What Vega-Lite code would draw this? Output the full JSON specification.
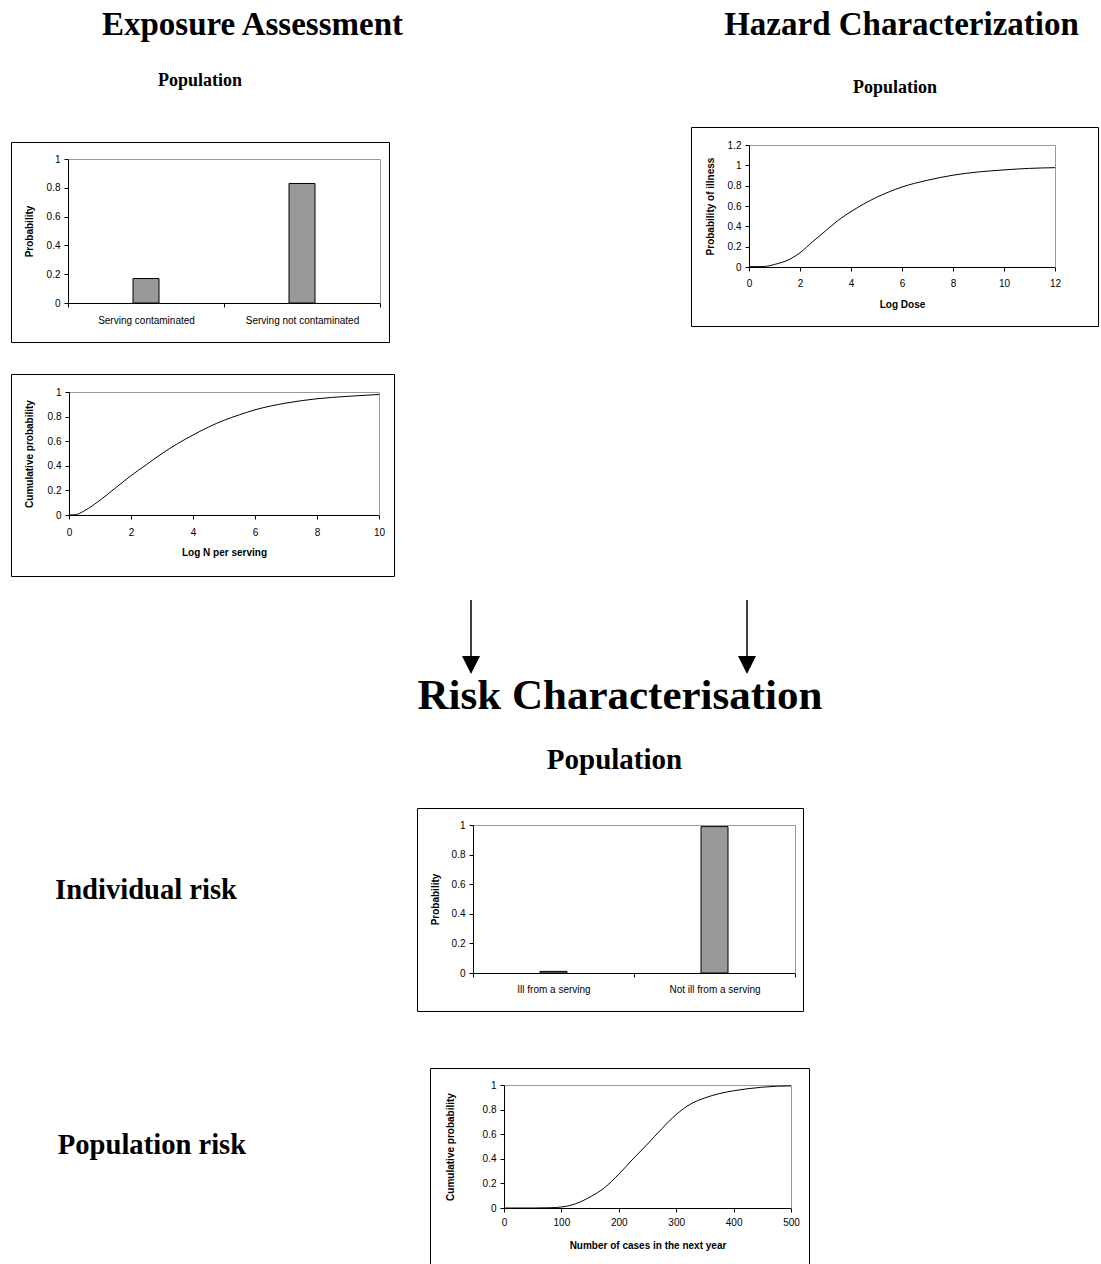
{
  "$schema": "https://vega.github.io/schema/vega-lite/v6.json",
  "padding": 0,
  "background": "white",
  "datasets": {
    "exposure_bar": [
      {"category": "Serving contaminated", "probability": 0.17},
      {"category": "Serving not contaminated", "probability": 0.83}
    ],
    "exposure_cdf": [
      {"log_n": 0, "cumulative": 0},
      {"log_n": 0.2, "cumulative": 0.002},
      {"log_n": 0.5, "cumulative": 0.035},
      {"log_n": 1, "cumulative": 0.12},
      {"log_n": 1.5, "cumulative": 0.22},
      {"log_n": 2, "cumulative": 0.32},
      {"log_n": 2.5, "cumulative": 0.41},
      {"log_n": 3, "cumulative": 0.5},
      {"log_n": 3.5, "cumulative": 0.58},
      {"log_n": 4, "cumulative": 0.65},
      {"log_n": 4.5, "cumulative": 0.715},
      {"log_n": 5, "cumulative": 0.77},
      {"log_n": 5.5, "cumulative": 0.815},
      {"log_n": 6, "cumulative": 0.855},
      {"log_n": 7, "cumulative": 0.91},
      {"log_n": 8, "cumulative": 0.945},
      {"log_n": 9, "cumulative": 0.965},
      {"log_n": 10, "cumulative": 0.98}
    ],
    "hazard": [
      {"log_dose": 0, "p_ill": 0.003},
      {"log_dose": 0.5, "p_ill": 0.004},
      {"log_dose": 0.8, "p_ill": 0.012},
      {"log_dose": 1, "p_ill": 0.025},
      {"log_dose": 1.5, "p_ill": 0.065},
      {"log_dose": 2, "p_ill": 0.14},
      {"log_dose": 2.5, "p_ill": 0.25},
      {"log_dose": 3, "p_ill": 0.355},
      {"log_dose": 3.5, "p_ill": 0.46},
      {"log_dose": 4, "p_ill": 0.545},
      {"log_dose": 4.5, "p_ill": 0.62},
      {"log_dose": 5, "p_ill": 0.685},
      {"log_dose": 5.5, "p_ill": 0.74},
      {"log_dose": 6, "p_ill": 0.787},
      {"log_dose": 7, "p_ill": 0.853},
      {"log_dose": 8, "p_ill": 0.903},
      {"log_dose": 9, "p_ill": 0.935},
      {"log_dose": 10, "p_ill": 0.955},
      {"log_dose": 11, "p_ill": 0.97},
      {"log_dose": 12, "p_ill": 0.977}
    ],
    "risk_bar": [
      {"category": "Ill from a serving", "probability": 0.011},
      {"category": "Not ill from a serving", "probability": 0.989}
    ],
    "cases_cdf": [
      {"cases": 0, "cumulative": 0},
      {"cases": 50, "cumulative": 0},
      {"cases": 80, "cumulative": 0.002},
      {"cases": 100, "cumulative": 0.008},
      {"cases": 125, "cumulative": 0.035},
      {"cases": 150, "cumulative": 0.09},
      {"cases": 175, "cumulative": 0.165},
      {"cases": 200, "cumulative": 0.275},
      {"cases": 225, "cumulative": 0.4},
      {"cases": 250, "cumulative": 0.52},
      {"cases": 275, "cumulative": 0.645},
      {"cases": 300, "cumulative": 0.76},
      {"cases": 325, "cumulative": 0.845},
      {"cases": 350, "cumulative": 0.895},
      {"cases": 375, "cumulative": 0.93},
      {"cases": 400, "cumulative": 0.953},
      {"cases": 425, "cumulative": 0.97},
      {"cases": 450, "cumulative": 0.982},
      {"cases": 475, "cumulative": 0.99},
      {"cases": 500, "cumulative": 0.993}
    ]
  },
  "spacing": 0,
  "vconcat": [
    {
      "spacing": 0,
      "hconcat": [
        {"width": 505, "height": 70, "data": {"values": [{"t": "Exposure Assessment"}]},
         "mark": {"type": "text", "font": "Liberation Serif", "fontWeight": "bold", "fontSize": 33, "baseline": "alphabetic", "color": "black"},
         "encoding": {"text": {"field": "t", "type": "nominal"}}},
        {"width": 200, "height": 1, "data": {"values": []}, "mark": "text"},
        {"width": 393, "height": 70, "data": {"values": [{"t": "Hazard Characterization"}]},
         "mark": {"type": "text", "font": "Liberation Serif", "fontWeight": "bold", "fontSize": 33, "baseline": "alphabetic", "color": "black"},
         "encoding": {"text": {"field": "t", "type": "nominal"}}}
      ]
    },
    {
      "spacing": 0,
      "hconcat": [
        {"width": 10, "height": 1, "data": {"values": []}, "mark": "text"},
        {
          "spacing": 0,
          "vconcat": [
            {"width": 378, "height": 32, "data": {"values": [{"t": "Population"}]},
             "mark": {"type": "text", "font": "Liberation Serif", "fontWeight": "bold", "fontSize": 18, "baseline": "alphabetic", "color": "black"},
             "encoding": {"text": {"field": "t", "type": "nominal"}}},
            {"width": 1, "height": 39, "data": {"values": []}, "mark": "text"},
            {
              "width": 378, "height": 200,
              "view": {"stroke": "black", "strokeWidth": 1},
              "data": {"name": "exposure_bar"},
              "layer": [
                {"mark": {"type": "bar", "size": 26, "fill": "#999999", "stroke": "black", "strokeWidth": 1},
                 "encoding": {
                   "x": {"field": "category", "type": "nominal", "sort": null,
                         "scale": {"range": [57, 369], "paddingInner": 0, "paddingOuter": 0},
                         "axis": {"orient": "bottom", "offset": -39, "title": null, "labelAngle": 0, "tickBand": "extent", "labelPadding": 8}},
                   "y": {"field": "probability", "type": "quantitative",
                         "scale": {"domain": [0, 1], "range": [161, 17], "nice": false},
                         "axis": {"orient": "left", "offset": -57, "values": [0, 0.2, 0.4, 0.6, 0.8, 1], "format": "~g", "title": "Probability", "titlePadding": 12}}
                 }},
                {"mark": {"type": "bar", "size": 26, "opacity": 0},
                 "encoding": {
                   "x": {"field": "category", "type": "nominal", "sort": null,
                         "axis": {"orient": "top", "offset": -17, "title": null, "labels": false, "ticks": false, "domainColor": "#999999"}},
                   "y": {"field": "probability", "type": "quantitative",
                         "axis": {"orient": "right", "offset": -9, "title": null, "labels": false, "ticks": false, "domainColor": "#999999"}}
                 }}
              ],
              "resolve": {"axis": {"x": "independent", "y": "independent"}}
            },
            {"width": 1, "height": 30, "data": {"values": []}, "mark": "text"},
            {
              "width": 383, "height": 202,
              "view": {"stroke": "black", "strokeWidth": 1},
              "data": {"name": "exposure_cdf"},
              "layer": [
                {"mark": {"type": "line", "color": "black", "strokeWidth": 1, "interpolate": "monotone"},
                 "encoding": {
                   "x": {"field": "log_n", "type": "quantitative",
                         "scale": {"domain": [0, 10], "range": [58, 368], "nice": false, "zero": false},
                         "axis": {"orient": "bottom", "offset": -61, "values": [0, 2, 4, 6, 8, 10], "title": "Log N per serving", "labelPadding": 8, "titlePadding": 10}},
                   "y": {"field": "cumulative", "type": "quantitative",
                         "scale": {"domain": [0, 1], "range": [141, 18], "nice": false},
                         "axis": {"orient": "left", "offset": -58, "values": [0, 0.2, 0.4, 0.6, 0.8, 1], "format": "~g", "title": "Cumulative probability", "titlePadding": 13}}
                 }},
                {"mark": {"type": "line", "strokeOpacity": 0},
                 "encoding": {
                   "x": {"field": "log_n", "type": "quantitative",
                         "axis": {"orient": "top", "offset": -18, "title": null, "labels": false, "ticks": false, "domainColor": "#999999"}},
                   "y": {"field": "cumulative", "type": "quantitative",
                         "axis": {"orient": "right", "offset": -15, "title": null, "labels": false, "ticks": false, "domainColor": "#999999"}}
                 }}
              ],
              "resolve": {"axis": {"x": "independent", "y": "independent"}}
            }
          ]
        },
        {"width": 295, "height": 1, "data": {"values": []}, "mark": "text"},
        {
          "spacing": 0,
          "vconcat": [
            {"width": 408, "height": 46, "data": {"values": [{"t": "Population"}]},
             "mark": {"type": "text", "font": "Liberation Serif", "fontWeight": "bold", "fontSize": 18, "baseline": "alphabetic", "color": "black"},
             "encoding": {"text": {"field": "t", "type": "nominal"}}},
            {"width": 1, "height": 10, "data": {"values": []}, "mark": "text"},
            {
              "width": 407, "height": 199,
              "view": {"stroke": "black", "strokeWidth": 1},
              "data": {"name": "hazard"},
              "layer": [
                {"mark": {"type": "line", "color": "black", "strokeWidth": 1, "interpolate": "monotone"},
                 "encoding": {
                   "x": {"field": "log_dose", "type": "quantitative",
                         "scale": {"domain": [0, 12], "range": [58, 364], "nice": false, "zero": false},
                         "axis": {"orient": "bottom", "offset": -59, "values": [0, 2, 4, 6, 8, 10, 12], "title": "Log Dose", "labelPadding": 7, "titlePadding": 11}},
                   "y": {"field": "p_ill", "type": "quantitative",
                         "scale": {"domain": [0, 1.2], "range": [140, 18], "nice": false},
                         "axis": {"orient": "left", "offset": -58, "values": [0, 0.2, 0.4, 0.6, 0.8, 1, 1.2], "format": "~g", "title": "Probability of illness", "titlePadding": 12}}
                 }},
                {"mark": {"type": "line", "strokeOpacity": 0},
                 "encoding": {
                   "x": {"field": "log_dose", "type": "quantitative",
                         "axis": {"orient": "top", "offset": -18, "title": null, "labels": false, "ticks": false, "domainColor": "#999999"}},
                   "y": {"field": "p_ill", "type": "quantitative",
                         "axis": {"orient": "right", "offset": -43, "title": null, "labels": false, "ticks": false, "domainColor": "#999999"}}
                 }}
              ],
              "resolve": {"axis": {"x": "independent", "y": "independent"}}
            }
          ]
        }
      ]
    },
    {"width": 1, "height": 22, "data": {"values": []}, "mark": "text"},
    {
      "spacing": 0,
      "hconcat": [
        {"width": 462, "height": 1, "data": {"values": []}, "mark": "text"},
        {
          "width": 18, "height": 74,
          "data": {"values": [{"arrow": "exposure"}]},
          "layer": [
            {"mark": {"type": "rule", "color": "black", "strokeWidth": 1.5},
             "encoding": {
               "x": {"datum": 0, "type": "quantitative", "scale": {"domain": [-1, 1]}, "axis": null},
               "y": {"datum": 0.1216, "type": "quantitative", "scale": {"domain": [0, 1]}, "axis": null},
               "y2": {"datum": 1}
             }},
            {"mark": {"type": "point", "shape": "M-1,-1L1,-1L0,1Z", "filled": true, "color": "black", "opacity": 1, "size": 324},
             "encoding": {
               "x": {"datum": 0, "type": "quantitative"},
               "y": {"datum": 0.1216, "type": "quantitative"}
             }}
          ]
        },
        {"width": 258, "height": 1, "data": {"values": []}, "mark": "text"},
        {
          "width": 18, "height": 74,
          "data": {"values": [{"arrow": "hazard"}]},
          "layer": [
            {"mark": {"type": "rule", "color": "black", "strokeWidth": 1.5},
             "encoding": {
               "x": {"datum": 0, "type": "quantitative", "scale": {"domain": [-1, 1]}, "axis": null},
               "y": {"datum": 0.1216, "type": "quantitative", "scale": {"domain": [0, 1]}, "axis": null},
               "y2": {"datum": 1}
             }},
            {"mark": {"type": "point", "shape": "M-1,-1L1,-1L0,1Z", "filled": true, "color": "black", "opacity": 1, "size": 324},
             "encoding": {
               "x": {"datum": 0, "type": "quantitative"},
               "y": {"datum": 0.1216, "type": "quantitative"}
             }}
          ]
        }
      ]
    },
    {
      "spacing": 0,
      "hconcat": [
        {"width": 140, "height": 1, "data": {"values": []}, "mark": "text"},
        {"width": 960, "height": 68, "data": {"values": [{"t": "Risk Characterisation"}]},
         "mark": {"type": "text", "font": "Liberation Serif", "fontWeight": "bold", "fontSize": 43, "baseline": "alphabetic", "color": "black"},
         "encoding": {"text": {"field": "t", "type": "nominal"}}}
      ]
    },
    {
      "spacing": 0,
      "hconcat": [
        {"width": 129, "height": 1, "data": {"values": []}, "mark": "text"},
        {"width": 971, "height": 52, "data": {"values": [{"t": "Population"}]},
         "mark": {"type": "text", "font": "Liberation Serif", "fontWeight": "bold", "fontSize": 29, "baseline": "alphabetic", "color": "black"},
         "encoding": {"text": {"field": "t", "type": "nominal"}}}
      ]
    },
    {
      "spacing": 0,
      "hconcat": [
        {"width": 292, "height": 208, "data": {"values": [{"t": "Individual risk"}]},
         "mark": {"type": "text", "font": "Liberation Serif", "fontWeight": "bold", "fontSize": 28.6, "baseline": "alphabetic", "color": "black"},
         "encoding": {"text": {"field": "t", "type": "nominal"}}},
        {"width": 124, "height": 1, "data": {"values": []}, "mark": "text"},
        {
          "spacing": 0,
          "vconcat": [
            {"width": 1, "height": 12, "data": {"values": []}, "mark": "text"},
            {
              "width": 386, "height": 203,
              "view": {"stroke": "black", "strokeWidth": 1},
              "data": {"name": "risk_bar"},
              "layer": [
                {"mark": {"type": "bar", "size": 27, "fill": "#999999", "stroke": "black", "strokeWidth": 1},
                 "encoding": {
                   "x": {"field": "category", "type": "nominal", "sort": null,
                         "scale": {"range": [56, 378], "paddingInner": 0, "paddingOuter": 0},
                         "axis": {"orient": "bottom", "offset": -38, "title": null, "labelAngle": 0, "tickBand": "extent", "labelPadding": 7}},
                   "y": {"field": "probability", "type": "quantitative",
                         "scale": {"domain": [0, 1], "range": [165, 17], "nice": false},
                         "axis": {"orient": "left", "offset": -56, "values": [0, 0.2, 0.4, 0.6, 0.8, 1], "format": "~g", "title": "Probability", "titlePadding": 11}}
                 }},
                {"mark": {"type": "bar", "size": 27, "opacity": 0},
                 "encoding": {
                   "x": {"field": "category", "type": "nominal", "sort": null,
                         "axis": {"orient": "top", "offset": -17, "title": null, "labels": false, "ticks": false, "domainColor": "#999999"}},
                   "y": {"field": "probability", "type": "quantitative",
                         "axis": {"orient": "right", "offset": -8, "title": null, "labels": false, "ticks": false, "domainColor": "#999999"}}
                 }}
              ],
              "resolve": {"axis": {"x": "independent", "y": "independent"}}
            }
          ]
        }
      ]
    },
    {
      "spacing": 0,
      "hconcat": [
        {
          "spacing": 0,
          "vconcat": [
            {"width": 1, "height": 90, "data": {"values": []}, "mark": "text"},
            {"width": 304, "height": 104, "data": {"values": [{"t": "Population risk"}]},
             "mark": {"type": "text", "font": "Liberation Serif", "fontWeight": "bold", "fontSize": 28.6, "baseline": "alphabetic", "color": "black"},
             "encoding": {"text": {"field": "t", "type": "nominal"}}}
          ]
        },
        {"width": 125, "height": 1, "data": {"values": []}, "mark": "text"},
        {
          "spacing": 0,
          "vconcat": [
            {"width": 1, "height": 55, "data": {"values": []}, "mark": "text"},
            {
              "width": 379, "height": 196,
              "view": {"stroke": "black", "strokeWidth": 1},
              "data": {"name": "cases_cdf"},
              "layer": [
                {"mark": {"type": "line", "color": "black", "strokeWidth": 1, "interpolate": "monotone"},
                 "encoding": {
                   "x": {"field": "cases", "type": "quantitative",
                         "scale": {"domain": [0, 500], "range": [74, 361], "nice": false, "zero": false},
                         "axis": {"orient": "bottom", "offset": -56, "values": [0, 100, 200, 300, 400, 500], "title": "Number of cases in the next year", "labelPadding": 5, "titlePadding": 13}},
                   "y": {"field": "cumulative", "type": "quantitative",
                         "scale": {"domain": [0, 1], "range": [140, 17], "nice": false},
                         "axis": {"orient": "left", "offset": -74, "values": [0, 0.2, 0.4, 0.6, 0.8, 1], "format": "~g", "title": "Cumulative probability", "titlePadding": 27}}
                 }},
                {"mark": {"type": "line", "strokeOpacity": 0},
                 "encoding": {
                   "x": {"field": "cases", "type": "quantitative",
                         "axis": {"orient": "top", "offset": -17, "title": null, "labels": false, "ticks": false, "domainColor": "#999999"}},
                   "y": {"field": "cumulative", "type": "quantitative",
                         "axis": {"orient": "right", "offset": -18, "title": null, "labels": false, "ticks": false, "domainColor": "#999999"}}
                 }}
              ],
              "resolve": {"axis": {"x": "independent", "y": "independent"}}
            }
          ]
        }
      ]
    }
  ],
  "config": {
    "view": {"stroke": null},
    "axis": {
      "labelFont": "Liberation Sans", "labelFontSize": 10, "labelColor": "black",
      "titleFont": "Liberation Sans", "titleFontSize": 10, "titleFontWeight": "bold", "titleColor": "black",
      "domainColor": "black", "domainWidth": 1, "tickColor": "black", "tickSize": 4, "tickWidth": 1,
      "grid": false, "labelPadding": 4, "minExtent": 0, "labelFlush": false, "labelOverlap": false
    }
  }
}
